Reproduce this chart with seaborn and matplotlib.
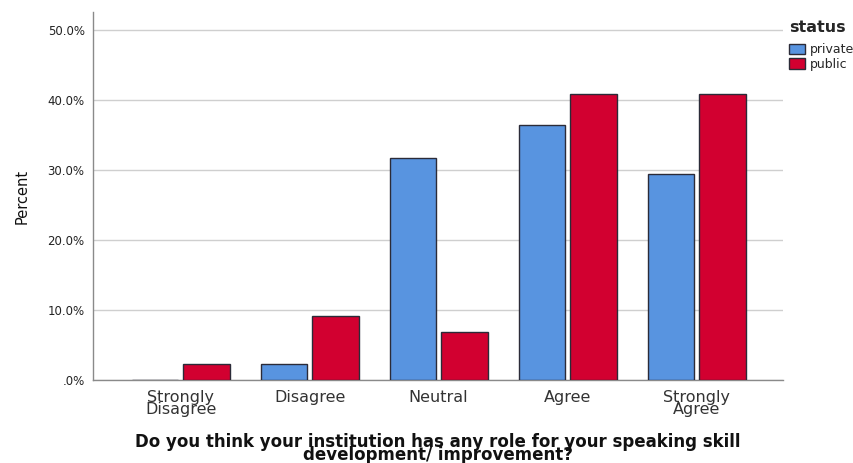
import numpy as np
import pandas as pd
import matplotlib
matplotlib.use("Agg")
import matplotlib.pyplot as plt
import seaborn as sns
from matplotlib.ticker import FuncFormatter

# Responses (category axis)
categories = ["Strongly\nDisagree", "Disagree", "Neutral", "Agree", "Strongly\nAgree"]
# Percent of respondents per institution type
private_pct = [0.0, 2.3, 31.8, 36.4, 29.5]
public_pct = [2.3, 9.1, 6.8, 40.9, 40.9]
status_levels = ["private", "public"]
yticks = [0, 10, 20, 30, 40, 50]

df = pd.DataFrame({
    "answer": categories * 2,
    "status": ["private"] * len(categories) + ["public"] * len(categories),
    "percent": private_pct + public_pct,
})

sns.set_style("white")
plt.rcParams["font.family"] = ["DejaVu Sans"]

fig = plt.figure(figsize=(8.54, 4.63), dpi=100)
ax = fig.add_axes([93 / 854, 1 - 380 / 463, 690 / 854, 368 / 463])

palette = {"private": "#5894E0", "public": "#D20030"}
sns.barplot(
    data=df, x="answer", y="percent", hue="status",
    order=categories, hue_order=status_levels, palette=palette,
    width=0.8, gap=0.1, edgecolor="#2B2B38", linewidth=1.0,
    saturation=1, ax=ax, zorder=3,
)

ax.set_ylim(0, 52.6)
ax.set_xlim(-0.68, 4.67)
ax.set_yticks(yticks)
ax.yaxis.set_major_formatter(FuncFormatter(lambda v, p: ".0%" if v == 0 else f"{v:.1f}%"))
ax.grid(axis="y", color="#CFCFCF", linewidth=1.0, zorder=0)
ax.set_axisbelow(True)

for s in ["top", "right"]:
    ax.spines[s].set_visible(False)
for s in ["left", "bottom"]:
    ax.spines[s].set_color("#8A8A8A")
    ax.spines[s].set_linewidth(1.0)

ax.tick_params(axis="both", length=0)
ax.tick_params(axis="y", labelsize=8.5, pad=6, labelcolor="#222222")
ax.tick_params(axis="x", labelsize=11.5, pad=7, labelcolor="#333333")
for lbl in ax.get_xticklabels():
    lbl.set_linespacing(0.8)

ax.set_ylabel("Percent", fontsize=10.5, color="#111111", labelpad=13)
ax.set_xlabel(
    "Do you think your institution has any role for your speaking skill\ndevelopment/ improvement?",
    fontsize=12, fontweight="bold", linespacing=0.68, labelpad=11, color="#111111",
)

leg = ax.legend(
    title="status", loc="upper left", bbox_to_anchor=(789 / 854, 1 - 20 / 463),
    bbox_transform=fig.transFigure, frameon=False, fontsize=9,
    handlelength=1.3, handleheight=0.95, handletextpad=0.35, labelspacing=0.12,
    borderpad=0, borderaxespad=0, alignment="left",
)
leg.get_title().set_fontweight("bold")
leg.get_title().set_fontsize(11.5)
leg._legend_box.sep = 6

fig.savefig("out.png", dpi=100)
